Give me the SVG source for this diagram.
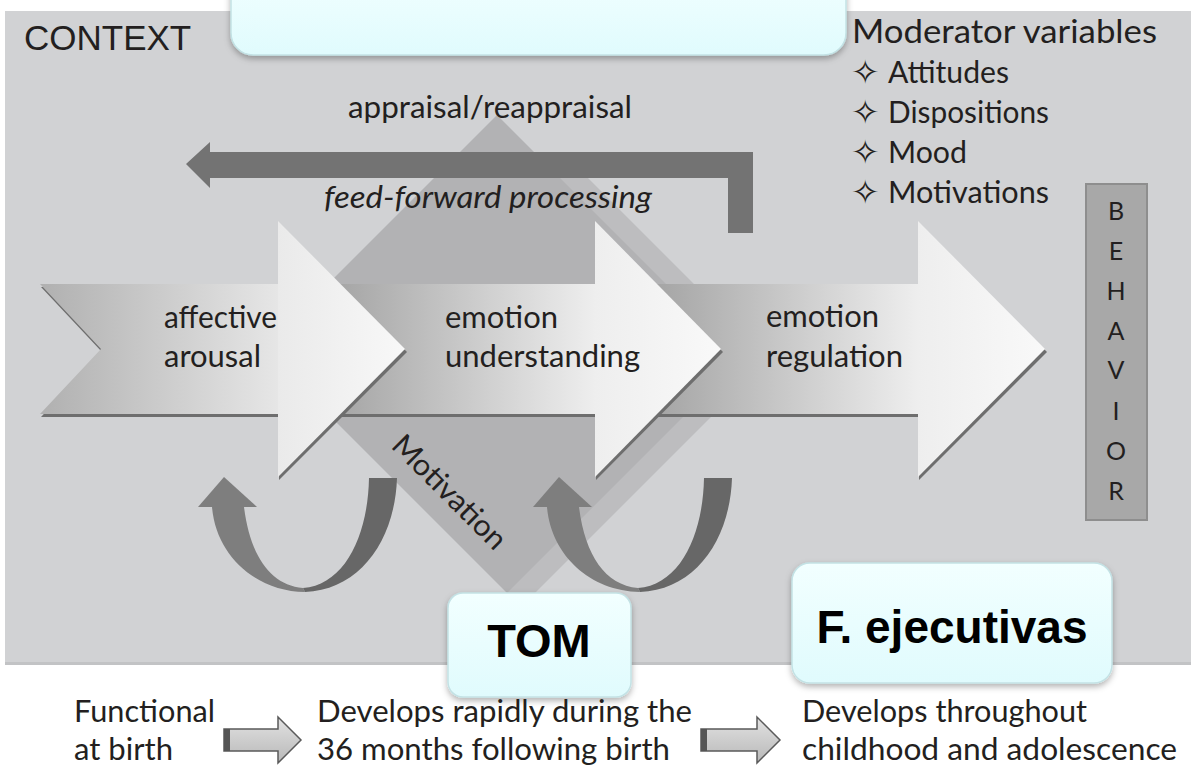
<svg xmlns="http://www.w3.org/2000/svg" width="1191" height="765" viewBox="0 0 1191 765">
<defs>
<style>
.t{font-family:Lato,"Open Sans","Liberation Sans",sans-serif;font-size:30px;fill:#231f20}
.it{font-style:italic}
.beh{font-family:Lato,"Open Sans",sans-serif;font-size:25px;fill:#231f20;text-anchor:middle}
.bold{font-family:"Liberation Sans",Arial,sans-serif;font-weight:bold;fill:#000}
.star{font-family:"DejaVu Sans",sans-serif;font-size:34px;fill:#231f20}
.cyan{fill:url(#gCyan);stroke:#c3e2e5;stroke-width:1.5;filter:url(#shadow)}
.shd{fill:#6e6e6e}
.dk{fill:#737373}
.uL{fill:#7e7e7e}
.uR{fill:#676767}
.sm{fill:url(#gSmall);stroke:#5a5a5a;stroke-width:1.5}
</style>
<linearGradient id="gCyan" x1="0" y1="0" x2="0" y2="1"><stop offset="0" stop-color="#f2ffff"/><stop offset="1" stop-color="#e0fbfd"/></linearGradient>
<filter id="shadow" x="-10%" y="-10%" width="120%" height="130%"><feDropShadow dx="0" dy="3" stdDeviation="3" flood-color="#000" flood-opacity="0.3"/></filter>
<linearGradient id="b1" gradientUnits="userSpaceOnUse" x1="40" y1="0" x2="278" y2="0"><stop offset="0" stop-color="#b0b0b0"/><stop offset="1" stop-color="#e6e6e6"/></linearGradient>
<linearGradient id="h1" gradientUnits="userSpaceOnUse" x1="278" y1="0" x2="405" y2="0"><stop offset="0" stop-color="#eaeaea"/><stop offset="1" stop-color="#f8f8f8"/></linearGradient>
<linearGradient id="b2" gradientUnits="userSpaceOnUse" x1="340" y1="0" x2="595" y2="0"><stop offset="0" stop-color="#a6a6a6"/><stop offset="1" stop-color="#eeeeee"/></linearGradient>
<linearGradient id="h2" gradientUnits="userSpaceOnUse" x1="595" y1="0" x2="721" y2="0"><stop offset="0" stop-color="#eeeeee"/><stop offset="1" stop-color="#f9f9f9"/></linearGradient>
<linearGradient id="b3" gradientUnits="userSpaceOnUse" x1="660" y1="0" x2="918" y2="0"><stop offset="0" stop-color="#a6a6a6"/><stop offset="1" stop-color="#eeeeee"/></linearGradient>
<linearGradient id="h3" gradientUnits="userSpaceOnUse" x1="918" y1="0" x2="1045" y2="0"><stop offset="0" stop-color="#eeeeee"/><stop offset="1" stop-color="#f9f9f9"/></linearGradient>
<linearGradient id="gSmall" x1="0" y1="0" x2="0" y2="1"><stop offset="0" stop-color="#e2e2e2"/><stop offset="1" stop-color="#b8b8b8"/></linearGradient>
</defs>

<rect width="1191" height="765" fill="#ffffff"/>
<g id="context-panel">
<rect x="5" y="11" width="1186" height="653" fill="#d1d2d4"/>
<rect x="5" y="662" width="1186" height="3" fill="#c2c3c5"/>
<text class="t" x="24" y="50" style="font-family:'Liberation Sans',Arial,sans-serif;font-size:35px">CONTEXT</text>
</g>

<g id="top-box">
<rect class="cyan" x="231" y="-30" width="615" height="85" rx="22"/>
</g>

<g id="moderators">
<text class="t" x="852" y="43" textLength="305" lengthAdjust="spacingAndGlyphs" style="font-size:32px">Moderator variables</text>
<text class="star" x="851" y="84">✧</text><text class="t" x="888" y="83" textLength="121" lengthAdjust="spacingAndGlyphs">Attitudes</text>
<text class="star" x="851" y="124">✧</text><text class="t" x="888" y="123" textLength="161" lengthAdjust="spacingAndGlyphs">Dispositions</text>
<text class="star" x="851" y="164">✧</text><text class="t" x="888" y="163" textLength="79" lengthAdjust="spacingAndGlyphs">Mood</text>
<text class="star" x="851" y="204">✧</text><text class="t" x="888" y="203" textLength="161" lengthAdjust="spacingAndGlyphs">Motivations</text>
</g>

<g id="motivation-diamond">
<polygon points="556,174 584,174 769,359 535,593 507,593" fill="#bdbdbf"/>
<polygon points="497,115 741,359 507,593 263,349" fill="#b2b2b4"/>
<text class="t" transform="translate(390,447) rotate(45)" textLength="148" lengthAdjust="spacingAndGlyphs">Motivation</text>
</g>

<g id="appraisal-label">
<text class="t" x="348" y="118" textLength="284" lengthAdjust="spacingAndGlyphs">appraisal/reappraisal</text>
</g>

<g id="arrow-regulation">
<polygon class="shd" points="621,287 919,287 919,224 1047,352 919,480 919,417 621,417 681,352"/>
<polygon points="620,284 918,284 918,414 620,414 680,349" fill="url(#b3)"/>
<polygon points="918,221 1045,349 918,477" fill="url(#h3)"/>
<text class="t" x="766" y="327" textLength="113" lengthAdjust="spacingAndGlyphs">emotion</text>
<text class="t" x="766" y="367" textLength="137" lengthAdjust="spacingAndGlyphs">regulation</text>
</g>

<g id="arrow-understanding">
<polygon class="shd" points="301,287 596,287 596,224 723,352 596,480 596,417 301,417 361,352"/>
<polygon points="300,284 595,284 595,414 300,414 360,349" fill="url(#b2)"/>
<polygon points="595,221 721,349 595,477" fill="url(#h2)"/>
<text class="t" x="445" y="328" textLength="113" lengthAdjust="spacingAndGlyphs">emotion</text>
<text class="t" x="445" y="367" textLength="195" lengthAdjust="spacingAndGlyphs">understanding</text>
</g>

<g id="arrow-arousal">
<polygon class="shd" points="41,287 279,287 279,224 407,352 279,480 279,417 41,417 102,352"/>
<polygon points="40,284 278,284 278,414 40,414 101,349" fill="url(#b1)"/>
<polygon points="278,221 405,349 278,477" fill="url(#h1)"/>
<text class="t" x="164" y="328" textLength="113" lengthAdjust="spacingAndGlyphs">affective</text>
<text class="t" x="164" y="367" textLength="97" lengthAdjust="spacingAndGlyphs">arousal</text>
</g>

<g id="feed-forward-label">
<text class="t it" x="324" y="208" textLength="328" lengthAdjust="spacingAndGlyphs">feed-forward processing</text>
</g>

<g id="behavior">
<rect x="1086" y="184" width="61" height="336" fill="#a8a8a8" stroke="#8e8e8e" stroke-width="2"/>
<text class="beh" x="1116" y="220">B</text>
<text class="beh" x="1116" y="260">E</text>
<text class="beh" x="1116" y="300">H</text>
<text class="beh" x="1116" y="340">A</text>
<text class="beh" x="1116" y="379">V</text>
<text class="beh" x="1116" y="420">I</text>
<text class="beh" x="1116" y="460">O</text>
<text class="beh" x="1116" y="500">R</text>
</g>

<g id="connectors">
<path class="dk" d="M186 164 L210 142 L210 152 L753 152 L753 233 L728 233 L728 178 L210 178 L210 188 Z"/>
<g id="loop1">
<path class="uL" d="M212 507 C216 555 255 591 305 592 L303 588 C270 585 250 555 244 507 Z"/>
<path class="uR" d="M305 592 C360 590 395 540 397 478 L369 478 C368 535 345 585 303 588 Z"/>
<polygon class="uL" points="198,507 224,477 257,507"/>
</g>
<g id="loop2" transform="translate(335,0)">
<path class="uL" d="M212 507 C216 555 255 591 305 592 L303 588 C270 585 250 555 244 507 Z"/>
<path class="uR" d="M305 592 C360 590 395 540 397 478 L369 478 C368 535 345 585 303 588 Z"/>
<polygon class="uL" points="198,507 224,477 257,507"/>
</g>
<g id="step1">
<polygon class="sm" points="224,729 278,729 278,717 301,740 278,763 278,751 224,751"/>
<rect x="224" y="729" width="6" height="22" fill="#555"/>
</g>
<g id="step2">
<polygon class="sm" points="701,729 757,729 757,717 780,740 757,763 757,751 701,751"/>
<rect x="701" y="729" width="6" height="22" fill="#555"/>
</g>
</g>

<g id="tom">
<rect class="cyan" x="448" y="593" width="183" height="104" rx="15"/>
<text class="bold" x="539" y="657" text-anchor="middle" style="font-size:47px">TOM</text>
</g>

<g id="f-ejecutivas">
<rect class="cyan" x="792" y="563" width="320" height="120" rx="18"/>
<text class="bold" x="952" y="643" text-anchor="middle" style="font-size:46px">F. ejecutivas</text>
</g>

<g id="development">
<text class="t" x="74" y="722" textLength="141" lengthAdjust="spacingAndGlyphs">Functional</text>
<text class="t" x="74" y="760" textLength="99" lengthAdjust="spacingAndGlyphs">at birth</text>
<text class="t" x="317" y="722" textLength="375" lengthAdjust="spacingAndGlyphs">Develops rapidly during the</text>
<text class="t" x="317" y="760" textLength="353" lengthAdjust="spacingAndGlyphs">36 months following birth</text>
<text class="t" x="802" y="722" textLength="285" lengthAdjust="spacingAndGlyphs">Develops throughout</text>
<text class="t" x="802" y="760" textLength="375" lengthAdjust="spacingAndGlyphs">childhood and adolescence</text>
</g>
</svg>
